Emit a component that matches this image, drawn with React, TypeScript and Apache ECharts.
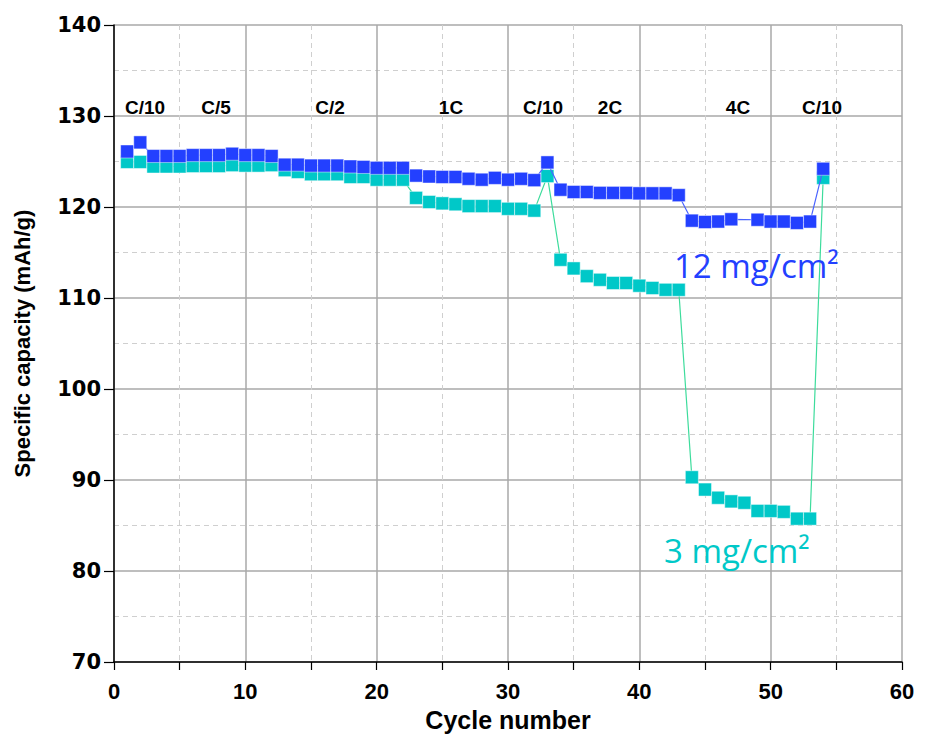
import React, { useEffect, useRef } from "react";
import * as echarts from "echarts";

const cycles = [
  1, 2, 3, 4, 5, 6, 7, 8, 9, 10, 11, 12, 13, 14, 15, 16, 17, 18, 19, 20,
  21, 22, 23, 24, 25, 26, 27, 28, 29, 30, 31, 32, 33, 34, 35, 36, 37, 38, 39, 40,
  41, 42, 43, 44, 45, 46, 47, 48, 49, 50, 51, 52, 53, 54,
];

const cap12 = [
  126.1, 127.1, 125.6, 125.6, 125.6, 125.7, 125.7, 125.7, 125.85, 125.7,
  125.7, 125.6, 124.65, 124.65, 124.55, 124.55, 124.55, 124.45, 124.4, 124.3,
  124.3, 124.3, 123.45, 123.35, 123.3, 123.3, 123.1, 123.0, 123.2, 123.0,
  123.1, 122.95, 124.9, 121.9, 121.65, 121.65, 121.55, 121.55, 121.55, 121.5,
  121.5, 121.5, 121.3, 118.5, 118.35, 118.4, 118.65, null, 118.6, 118.4,
  118.4, 118.25, 118.4, 124.2,
];

const cap3 = [
  124.95, 124.95, 124.45, 124.45, 124.45, 124.5, 124.5, 124.5, 124.6, 124.55,
  124.55, 124.6, 124.05, 123.85, 123.6, 123.6, 123.6, 123.3, 123.3, 123.0,
  123.0, 123.0, 121.0, 120.55, 120.4, 120.3, 120.1, 120.1, 120.1, 119.8,
  119.8, 119.6, 123.4, 114.2, 113.25, 112.4, 112.0, 111.65, 111.65, 111.35,
  111.1, 110.9, 110.9, 90.3, 88.95, 88.05, 87.65, 87.5, 86.6, 86.6,
  86.5, 85.75, 85.75, 123.2,
];

const rateLabels = ["C/10", "C/5", "C/2", "1C", "C/10", "2C", "4C", "C/10"];
const rateLabelX = [145, 216, 330, 451, 543, 610, 738, 822];

const seriesNames = ["12 mg/cm²", "3 mg/cm²"];

const BLUE = "#2340ff";
const TEAL = "#00c8c8";

export default function App() {
  const ref = useRef<HTMLDivElement>(null);

  useEffect(() => {
    document.body.style.margin = "0";
    if (!ref.current) return;
    const chart = echarts.init(ref.current, null, { renderer: "svg" });

    const toPairs = (vals: (number | null)[]) =>
      cycles.map((c, i) => [c, vals[i]]);

    const labelFont = "'Liberation Sans', Arial, sans-serif";

    chart.setOption({
      animation: false,
      backgroundColor: "#ffffff",
      grid: { left: 114, right: 24, top: 25, bottom: 75, containLabel: false },
      xAxis: {
        type: "value",
        min: 0,
        max: 60,
        interval: 10,
        name: "Cycle number",
        nameLocation: "middle",
        nameGap: 45,
        nameTextStyle: {
          fontFamily: labelFont,
          fontWeight: "bold",
          fontSize: 25,
          color: "#000",
        },
        axisLine: { show: true, onZero: false, lineStyle: { color: "#000", width: 1.5 } },
        axisTick: { show: true, inside: false, length: 8, lineStyle: { color: "#000", width: 1.2 } },
        minorTick: { show: true, splitNumber: 2, length: 8, lineStyle: { color: "#000", width: 1.2 } },
        axisLabel: {
          margin: 18,
          fontFamily: labelFont,
          fontWeight: "bold",
          fontSize: 22,
          color: "#000",
        },
        splitLine: { show: true, lineStyle: { color: "#a8a8a8", width: 1.5 } },
        minorSplitLine: { show: true, lineStyle: { color: "#cfcfcf", width: 1, type: [5, 4] } },
      },
      yAxis: {
        type: "value",
        min: 70,
        max: 140,
        interval: 10,
        name: "Specific capacity (mAh/g)",
        nameLocation: "middle",
        nameGap: 81,
        nameRotate: 90,
        nameTextStyle: {
          fontFamily: labelFont,
          fontWeight: "bold",
          fontSize: 22,
          color: "#000",
        },
        axisLine: { show: true, onZero: false, lineStyle: { color: "#000", width: 1.5 } },
        axisTick: { show: true, inside: false, length: 10, lineStyle: { color: "#000", width: 1.2 } },
        minorTick: { show: false, splitNumber: 2 },
        axisLabel: {
          margin: 13,
          fontFamily: "'DejaVu Sans', sans-serif",
          fontWeight: "bold",
          fontSize: 21,
          color: "#000",
        },
        splitLine: { show: true, lineStyle: { color: "#a8a8a8", width: 1.5 } },
        minorSplitLine: { show: true, lineStyle: { color: "#cfcfcf", width: 1, type: [5, 4] } },
      },
      series: [
        {
          name: seriesNames[1],
          type: "line",
          data: toPairs(cap3),
          connectNulls: true,
          symbol: "rect",
          symbolSize: 13,
          showAllSymbol: true,
          lineStyle: { color: "#3ddc9c", width: 1.2 },
          itemStyle: { color: TEAL, borderColor: "rgba(255,255,255,0.45)", borderWidth: 1 },
          z: 2,
        },
        {
          name: seriesNames[0],
          type: "line",
          data: toPairs(cap12),
          connectNulls: true,
          symbol: "rect",
          symbolSize: 13,
          showAllSymbol: true,
          lineStyle: { color: "#4a63ff", width: 1.2 },
          itemStyle: { color: BLUE, borderColor: "rgba(255,255,255,0.45)", borderWidth: 1 },
          z: 3,
        },
      ],
      graphic: [
        ...rateLabels.map((t, i) => ({
          type: "text",
          x: rateLabelX[i],
          y: 107,
          z: 10,
          style: {
            text: t,
            fill: "#000",
            font: "bold 19px 'Liberation Sans', Arial, sans-serif",
            textAlign: "center",
            textVerticalAlign: "middle",
          },
        })),
        {
          type: "text",
          x: 674,
          y: 265,
          z: 10,
          style: {
            text: seriesNames[0],
            fill: BLUE,
            font: "33px 'Open Sans', 'Noto Sans', sans-serif",
            textAlign: "left",
            textVerticalAlign: "middle",
          },
        },
        {
          type: "text",
          x: 664,
          y: 550,
          z: 10,
          style: {
            text: seriesNames[1],
            fill: TEAL,
            font: "33px 'Open Sans', 'Noto Sans', sans-serif",
            textAlign: "left",
            textVerticalAlign: "middle",
          },
        },
      ],
    });

    return () => chart.dispose();
  }, []);

  return (
    <div
      ref={ref}
      style={{ position: "absolute", left: 0, top: 0, width: 926, height: 737 }}
    />
  );
}
